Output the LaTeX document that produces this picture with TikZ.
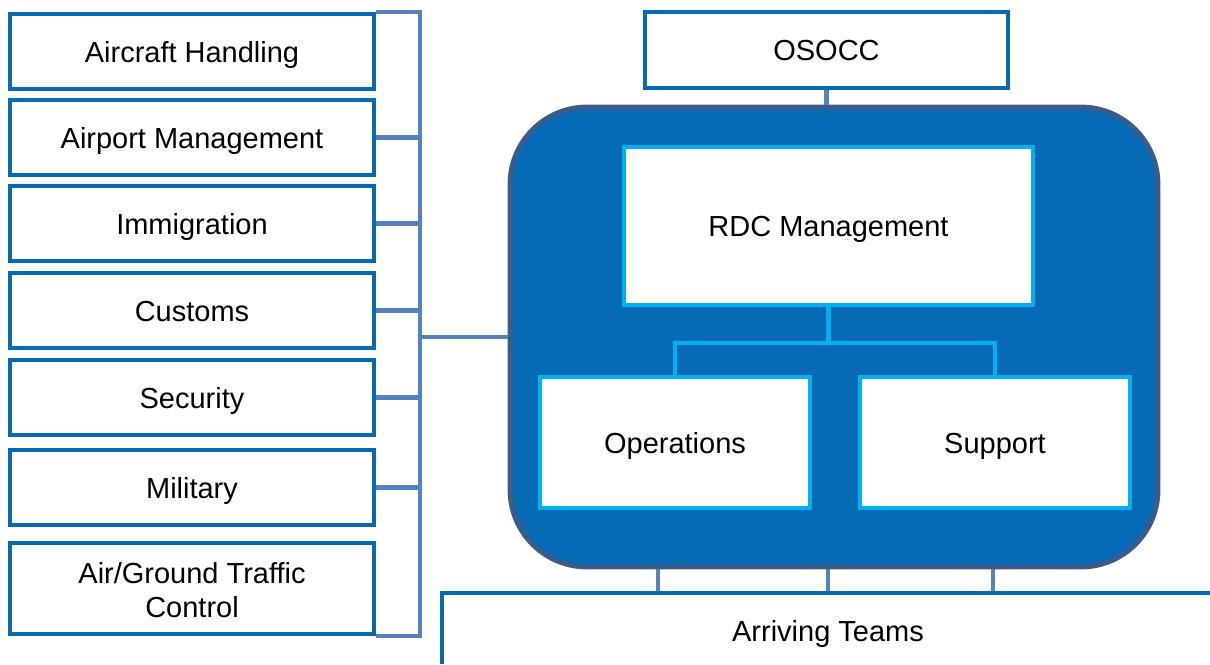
\documentclass[tikz,border=0pt]{standalone}
\usepackage{fontspec}
\setmainfont{Liberation Sans}
\usetikzlibrary{positioning,calc}

\definecolor{boxblue}{RGB}{5,105,180}
\definecolor{linkblue}{RGB}{84,130,190}
\definecolor{panelblue}{RGB}{6,107,180}
\definecolor{paneledge}{RGB}{60,90,138}
\definecolor{cyanedge}{RGB}{0,176,240}

\tikzset{
	framed/.style={draw=boxblue,line width=2.3pt,fill=white,minimum width=7.28cm,minimum height=1.5cm,align=center,inner sep=0pt},
	partner/.style={framed,text height=14pt,text depth=2pt},
	unitbox/.style={draw=cyanedge,line width=2.3pt,fill=white,inner sep=0pt,text height=14pt,text depth=2pt},
	link/.style={draw=linkblue,line width=2.3pt},
	cyanlink/.style={draw=cyanedge,line width=2.3pt},
}

\begin{document}
\begin{tikzpicture}[x=0.02cm,y=-0.02cm,font=\fontsize{16.5}{19.5}\selectfont]
		\useasboundingbox (0,0) rectangle (1210,664);
		% partners on the left
		\foreach \n/\y/\txt in {1/51.5/Aircraft Handling,2/137.5/Airport Management,3/223.5/Immigration,4/310.5/Customs,5/397.5/Security,6/487.5/Military}{
			\node[partner] (p\n) at (192,\y) {\txt};
		}
		\node[framed,minimum height=1.82cm] (p7) at (192,588.5) {\rule{0pt}{14pt}Air/Ground Traffic\\Control};
		\coordinate (spine) at (420,337);
		\draw[link] (p1.north east) -- (p1.north east -| spine) -- (p7.south east -| spine) -- (p7.south east);
		\foreach \n in {2,...,6}{
			\draw[link] (p\n.east) -- (p\n.east -| spine);
		}
		% arriving teams
		\coordinate (shelf) at (442,593);
		\foreach \x in {658,828,993}{
			\draw[link] (\x,560) -- (\x,593);
		}
		\draw[draw=boxblue,line width=2.3pt] (442,664) -- (shelf) -- (1210,593);
		\node[text height=14pt,text depth=2pt] (teams) at (828,631) {Arriving Teams};
		% the RDC
		\node[draw=paneledge,fill=panelblue,line width=2.8pt,rounded corners=1.54cm,minimum width=12.96cm,minimum height=9.2cm] (centre) at (834,337) {};
		\draw[link] (spine) -- (centre.west);
		\node[partner,minimum width=7.26cm,minimum height=1.52cm] (osocc) at (826.5,50) {OSOCC};
		\draw[link] (osocc.south) -- (osocc.south |- centre.north);
		\node[unitbox,minimum width=8.18cm,minimum height=3.16cm] (mgmt) at (828.5,226) {RDC Management};
		\node[unitbox,minimum width=5.4cm,minimum height=2.62cm] (ops) at (675,442.5) {Operations};
		\node[unitbox,minimum width=5.4cm,minimum height=2.62cm] (sup) at (995,442.5) {Support};
		\coordinate (fork) at (828.5,343);
		\draw[cyanlink] (mgmt.south) -- (fork) (ops.north) |- (fork) -| (sup.north);
\end{tikzpicture}
\end{document}
